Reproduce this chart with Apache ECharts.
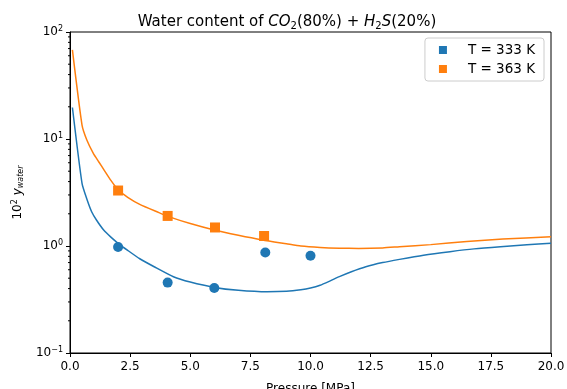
<!DOCTYPE html>
<html><head><meta charset="utf-8">
<script src="https://cdn.jsdelivr.net/npm/echarts@6/dist/echarts.min.js"></script>
<style>html,body{margin:0;padding:0;background:#fff}#c{width:567px;height:389px}</style>
</head><body><div id="c"></div>
<script>
// Model curves (pressure in MPa, 10^2 y_water)
const curve333P = [0.1, 0.5, 0.7, 0.9, 1.1, 1.4, 1.7, 2.0, 2.4, 2.9, 3.5, 4.3, 5.0, 6.0, 7.0, 8.2, 9.0, 9.6, 10.0, 10.4, 10.8, 11.2, 11.7, 12.3, 13.0, 13.7, 14.7, 15.8, 16.8, 17.9, 19.0, 20.0];
const curve333 = [19.7, 3.85, 2.75, 2.09, 1.75, 1.41, 1.21, 1.06, 0.91, 0.76, 0.64, 0.516, 0.46, 0.41, 0.385, 0.373, 0.377, 0.39, 0.405, 0.43, 0.47, 0.517, 0.575, 0.64, 0.70, 0.75, 0.82, 0.885, 0.94, 0.985, 1.025, 1.06];
const curve363P = [0.1, 0.5, 0.7, 0.97, 1.2, 1.4, 1.7, 2.0, 2.4, 2.9, 3.7, 4.1, 5.0, 6.0, 7.0, 8.0, 9.0, 9.6, 10.4, 11.2, 12.0, 13.0, 13.7, 15.0, 16.5, 18.0, 20.0];
const curve363 = [68, 13.5, 9.8, 7.35, 6.1, 5.2, 4.1, 3.35, 2.85, 2.45, 2.05, 1.88, 1.62, 1.41, 1.26, 1.14, 1.05, 1.0, 0.97, 0.955, 0.95, 0.96, 0.985, 1.03, 1.1, 1.16, 1.22];
// Experimental points
const exp333P = [2.0, 4.06, 6.0, 8.12, 10.0];
const exp333 = [0.98, 0.455, 0.405, 0.87, 0.81];
const exp363P = [2.0, 4.06, 6.03, 8.07];
const exp363 = [3.3, 1.91, 1.49, 1.24];
const minorVals = [];
for (let e = -1; e < 2; e++) for (let m = 2; m <= 9; m++) minorVals.push(m * Math.pow(10, e));

const blue = '#1f77b4', orange = '#ff7f0e';
const font = 'DejaVu Sans';
const zip = (a, b) => a.map((v, i) => [v, b[i]]);
const supMap = {'-1':'−1','0':'0','1':'1','2':'2'};

const chart = echarts.init(document.getElementById('c'));
chart.setOption({
  animation: false,
  title: {
    text: 'Water content of {it|CO}{sub|2}(80%) + {it|H}{sub|2}{it|S}(20%)',
    left: 282, top: 9, textAlign: 'center',
    textStyle: {
      fontFamily: font, fontSize: 15, fontWeight: 'normal', color: '#000',
      rich: {
        it: {fontFamily: font, fontSize: 15, fontStyle: 'italic', color: '#000'},
        sub: {fontFamily: font, fontSize: 10, color: '#000', verticalAlign: 'bottom', padding: [7, 0, 0, 0]}
      }
    }
  },
  legend: {
    data: [{name: 'T = 333 K', icon: 'rect'}, {name: 'T = 363 K', icon: 'rect'}],
    orient: 'vertical', right: 23, top: 38,
    itemWidth: 8, itemHeight: 8, itemGap: 5,
    padding: [5, 9, 5, 14],
    borderColor: '#ccc', borderWidth: 1, borderRadius: 3, backgroundColor: '#fff',
    textStyle: {fontFamily: font, fontSize: 13.5, color: '#000', padding: [0, 0, 0, 16]}
  },
  grid: {left: 70, right: 16, top: 32, bottom: 36, containLabel: false, outerBoundsMode: 'none',
         show: true, borderColor: '#000', borderWidth: 1, backgroundColor: 'transparent'},
  xAxis: {
    type: 'value', min: 0, max: 20, interval: 2.5,
    name: 'Pressure [MPa]', nameLocation: 'middle', nameGap: 30,
    nameTextStyle: {fontFamily: font, fontSize: 12, color: '#000'},
    axisLine: {show: true, lineStyle: {color: '#000', width: 1}},
    axisTick: {show: true, length: 4, inside: false, lineStyle: {color: '#000'}},
    axisLabel: {fontFamily: font, fontSize: 12, color: '#000', margin: 8, formatter: v => v.toFixed(1)},
    splitLine: {show: false}
  },
  yAxis: {
    type: 'log', logBase: 10, min: 0.1, max: 100,
    name: '10{sup|2} {it|y}{sub|water}', nameLocation: 'middle', nameGap: 44, nameRotate: 90,
    nameTextStyle: {
      fontFamily: font, fontSize: 12, color: '#000',
      rich: {
        sup: {fontFamily: font, fontSize: 8, color: '#000', verticalAlign: 'top', padding: [0, 0, 6, 0]},
        it: {fontFamily: font, fontSize: 12, fontStyle: 'italic', color: '#000'},
        sub: {fontFamily: font, fontSize: 8, fontStyle: 'italic', color: '#000', verticalAlign: 'bottom', padding: [5, 0, 0, 0]}
      }
    },
    axisLine: {show: true, lineStyle: {color: '#000', width: 1}},
    axisTick: {show: true, length: 4, lineStyle: {color: '#000'}},
    axisLabel: {
      fontFamily: font, fontSize: 12, color: '#000', margin: 7,
      formatter: v => { const e = Math.round(Math.log10(v)); return '10{sup|' + supMap[String(e)] + '}'; },
      rich: {sup: {fontFamily: font, fontSize: 8, color: '#000', verticalAlign: 'top', padding: [0, 0, 6, 0]}}
    },
    splitLine: {show: false}
  },
  series: [
    {
      type: 'custom', silent: true, z: 1,
      data: minorVals.map(v => [0, v]),
      renderItem: (params, api) => {
        const p = api.coord([0, api.value(1)]);
        return {type: 'line', shape: {x1: p[0] - 2, y1: p[1], x2: p[0], y2: p[1]}, style: {stroke: '#000', lineWidth: 1}};
      }
    },
    {name: 'line333', type: 'line', data: zip(curve333P, curve333), showSymbol: false, smooth: 0.2,
     lineStyle: {color: blue, width: 1.5}, itemStyle: {color: blue}, z: 2},
    {name: 'line363', type: 'line', data: zip(curve363P, curve363), showSymbol: false, smooth: 0.2,
     lineStyle: {color: orange, width: 1.5}, itemStyle: {color: orange}, z: 2},
    {name: 'T = 333 K', type: 'scatter', data: zip(exp333P, exp333), symbol: 'circle', symbolSize: 10,
     itemStyle: {color: blue, opacity: 1}, z: 3},
    {name: 'T = 363 K', type: 'scatter', data: zip(exp363P, exp363), symbol: 'rect', symbolSize: 10,
     itemStyle: {color: orange, opacity: 1}, z: 3}
  ]
});
</script></body></html>
